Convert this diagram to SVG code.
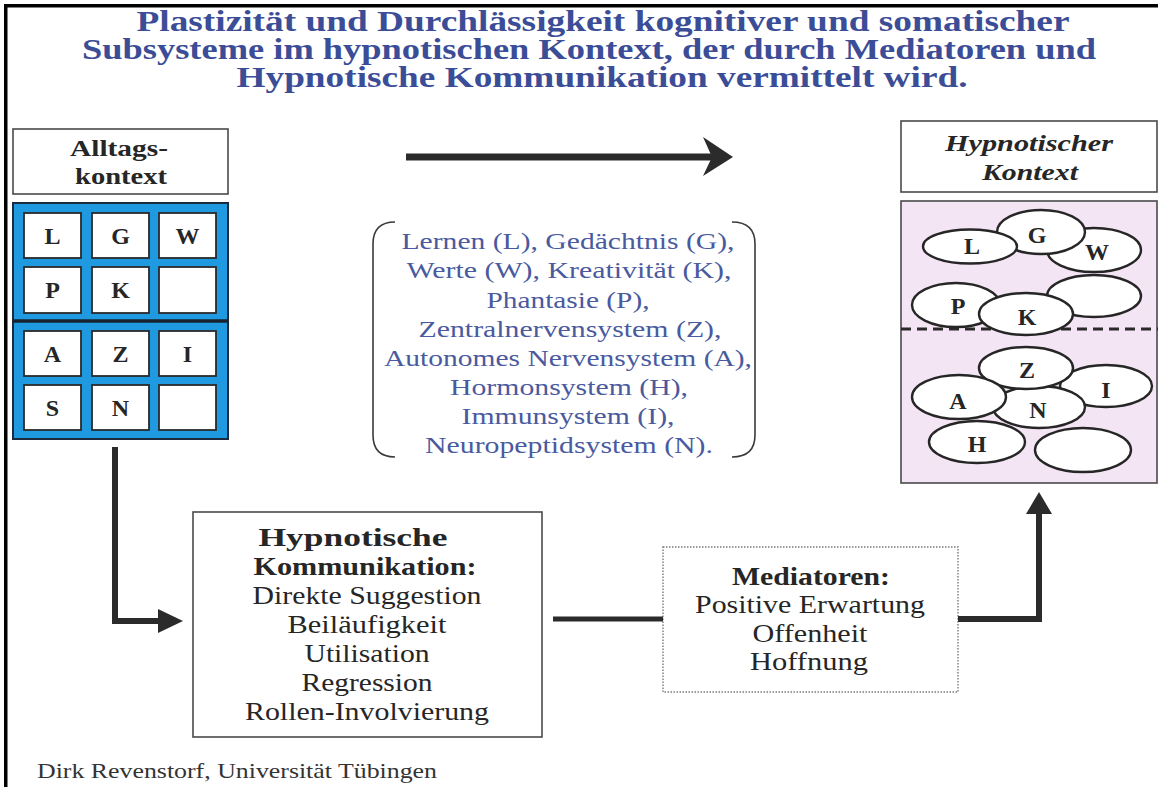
<svg xmlns="http://www.w3.org/2000/svg" width="1158" height="787" viewBox="0 0 1158 787">
  <style>
    .title { font-family: "Liberation Serif", "Times New Roman", serif; font-weight: bold; font-size: 28.5px; fill: #3b4d96; text-anchor: middle; }
    .list { font-family: "Liberation Serif", "Times New Roman", serif; font-size: 23.5px; fill: #4a5a9e; text-anchor: middle; }
    .body { font-family: "Liberation Serif", "Times New Roman", serif; font-size: 25px; fill: #262626; text-anchor: middle; }
    .bold { font-weight: bold; }
    .head { font-family: "Liberation Serif", "Times New Roman", serif; font-size: 24px; font-weight: bold; fill: #262626; text-anchor: middle; }
    .cellt { font-family: "Liberation Serif", "Times New Roman", serif; font-size: 24px; font-weight: bold; fill: #262626; text-anchor: middle; }
    .cell { fill: #ffffff; stroke: #2a2a2a; stroke-width: 1.8; }
    .oval { fill: #ffffff; stroke: #262626; stroke-width: 2.4; }
    .frame { fill: #ffffff; stroke: #4a4a4a; stroke-width: 1.6; }
    .conn { fill: none; stroke: #2b2b2b; stroke-linejoin: miter; }
    .head-fill { fill: #2b2b2b; }
  </style>

  <rect x="0" y="0" width="1158" height="787" fill="#ffffff"/>
  <!-- page edges -->
  <rect x="4" y="4" width="1154" height="3.5" fill="#000000"/>
  <rect x="4" y="4" width="3.5" height="783" fill="#000000"/>

  <!-- heading -->
  <g id="title">
    <text class="title" x="603" y="31" textLength="933" lengthAdjust="spacingAndGlyphs">Plastizität und Durchlässigkeit kognitiver und somatischer</text>
    <text class="title" x="589" y="59" textLength="1014" lengthAdjust="spacingAndGlyphs">Subsysteme im hypnotischen Kontext, der durch Mediatoren und</text>
    <text class="title" x="602" y="87" textLength="731" lengthAdjust="spacingAndGlyphs">Hypnotische Kommunikation vermittelt wird.</text>
  </g>

  <!-- everyday context label -->
  <g id="alltags-label">
    <rect class="frame" x="13" y="129" width="215" height="65"/>
    <text class="head" x="119" y="156" textLength="98" lengthAdjust="spacingAndGlyphs">Alltags-</text>
    <text class="head" x="121" y="184" textLength="92" lengthAdjust="spacingAndGlyphs">kontext</text>
  </g>

  <!-- everyday context grid of subsystems -->
  <g id="alltags-grid">
    <rect x="13" y="203" width="215" height="236" fill="#1f9ae0" stroke="#1b2a3c" stroke-width="2"/>
    <line x1="13" y1="321" x2="228" y2="321" stroke="#1a2330" stroke-width="3.5"/>
    <rect class="cell" x="24" y="213" width="57" height="45"/>
    <rect class="cell" x="92" y="213" width="57" height="45"/>
    <rect class="cell" x="159" y="213" width="57" height="45"/>
    <rect class="cell" x="24" y="267" width="57" height="46"/>
    <rect class="cell" x="92" y="267" width="57" height="46"/>
    <rect class="cell" x="159" y="267" width="57" height="46"/>
    <rect class="cell" x="24" y="331" width="57" height="45"/>
    <rect class="cell" x="92" y="331" width="57" height="45"/>
    <rect class="cell" x="159" y="331" width="57" height="45"/>
    <rect class="cell" x="24" y="385" width="57" height="45"/>
    <rect class="cell" x="92" y="385" width="57" height="45"/>
    <rect class="cell" x="159" y="385" width="57" height="45"/>
    <text class="cellt" x="52.5" y="244">L</text>
    <text class="cellt" x="120.5" y="244">G</text>
    <text class="cellt" x="187.5" y="244">W</text>
    <text class="cellt" x="52.5" y="298">P</text>
    <text class="cellt" x="120.5" y="298">K</text>
    <text class="cellt" x="52.5" y="362">A</text>
    <text class="cellt" x="120.5" y="362">Z</text>
    <text class="cellt" x="187.5" y="362">I</text>
    <text class="cellt" x="52.5" y="416">S</text>
    <text class="cellt" x="120.5" y="416">N</text>
  </g>

  <!-- bracketed legend -->
  <g id="legend">
    <path d="M395,222 Q373,222 373,244 L373,435 Q373,457 395,457" fill="none" stroke="#3a3a3a" stroke-width="1.6"/>
    <path d="M732,222 Q755,222 755,244 L755,435 Q755,457 732,457" fill="none" stroke="#3a3a3a" stroke-width="1.6"/>
    <text class="list" x="568" y="249" textLength="333" lengthAdjust="spacingAndGlyphs">Lernen (L), Gedächtnis (G),</text>
    <text class="list" x="569" y="278" textLength="325" lengthAdjust="spacingAndGlyphs">Werte (W), Kreativität (K),</text>
    <text class="list" x="568" y="308" textLength="163" lengthAdjust="spacingAndGlyphs">Phantasie (P),</text>
    <text class="list" x="570" y="337" textLength="303" lengthAdjust="spacingAndGlyphs">Zentralnervensystem (Z),</text>
    <text class="list" x="568" y="366" textLength="368" lengthAdjust="spacingAndGlyphs">Autonomes Nervensystem (A),</text>
    <text class="list" x="569" y="395" textLength="238" lengthAdjust="spacingAndGlyphs">Hormonsystem (H),</text>
    <text class="list" x="568" y="424" textLength="213" lengthAdjust="spacingAndGlyphs">Immunsystem (I),</text>
    <text class="list" x="569" y="453" textLength="288" lengthAdjust="spacingAndGlyphs">Neuropeptidsystem (N).</text>
  </g>

  <!-- hypnotic context label -->
  <g id="hypno-label">
    <rect class="frame" x="901" y="121" width="256" height="71"/>
    <text class="head" x="1029" y="151" font-style="italic" textLength="168" lengthAdjust="spacingAndGlyphs">Hypnotischer</text>
    <text class="head" x="1030" y="180" font-style="italic" textLength="96" lengthAdjust="spacingAndGlyphs">Kontext</text>
  </g>

  <!-- hypnotic context: overlapping subsystems -->
  <g id="hypno-field">
    <rect x="901" y="201" width="256" height="282" fill="#f4e5f4" stroke="#4a4a4a" stroke-width="1.6"/>
    <line x1="901" y1="329" x2="1158" y2="329" stroke="#2a2a2a" stroke-width="3" stroke-dasharray="10 6"/>
    <ellipse class="oval" cx="1094" cy="250" rx="47" ry="22"/>
    <ellipse class="oval" cx="1041" cy="232" rx="44" ry="22"/>
    <ellipse class="oval" cx="970" cy="246.5" rx="47" ry="17"/>
    <ellipse class="oval" cx="1094" cy="296" rx="47" ry="21"/>
    <ellipse class="oval" cx="956" cy="305" rx="44" ry="22"/>
    <ellipse class="oval" cx="1026" cy="314" rx="47" ry="21"/>
    <ellipse class="oval" cx="1106" cy="386" rx="46" ry="21"/>
    <ellipse class="oval" cx="1039" cy="407" rx="46" ry="21"/>
    <ellipse class="oval" cx="1026" cy="368" rx="47" ry="21"/>
    <ellipse class="oval" cx="959" cy="397" rx="47" ry="22"/>
    <ellipse class="oval" cx="977" cy="442" rx="48" ry="21"/>
    <ellipse class="oval" cx="1083" cy="450" rx="48" ry="22"/>
    <text class="cellt" x="972" y="254">L</text>
    <text class="cellt" x="1037" y="243">G</text>
    <text class="cellt" x="1097" y="260">W</text>
    <text class="cellt" x="958" y="314">P</text>
    <text class="cellt" x="1027" y="325">K</text>
    <text class="cellt" x="1027" y="378">Z</text>
    <text class="cellt" x="1106" y="398">I</text>
    <text class="cellt" x="1038" y="418">N</text>
    <text class="cellt" x="958" y="409">A</text>
    <text class="cellt" x="977" y="452">H</text>
  </g>

  <!-- hypnotic communication -->
  <g id="kommunikation">
    <rect class="frame" x="193" y="512" width="349" height="225"/>
    <text class="body bold" x="353" y="546" textLength="189" lengthAdjust="spacingAndGlyphs">Hypnotische</text>
    <text class="body bold" x="365" y="575" textLength="223" lengthAdjust="spacingAndGlyphs">Kommunikation:</text>
    <text class="body" x="367" y="604" textLength="229" lengthAdjust="spacingAndGlyphs">Direkte Suggestion</text>
    <text class="body" x="367" y="633" textLength="159" lengthAdjust="spacingAndGlyphs">Beiläufigkeit</text>
    <text class="body" x="367" y="662" textLength="125" lengthAdjust="spacingAndGlyphs">Utilisation</text>
    <text class="body" x="367" y="691" textLength="131" lengthAdjust="spacingAndGlyphs">Regression</text>
    <text class="body" x="367" y="720" textLength="244" lengthAdjust="spacingAndGlyphs">Rollen-Involvierung</text>
  </g>

  <!-- mediators -->
  <g id="mediatoren">
    <rect x="663" y="547" width="295" height="145" fill="#ffffff" stroke="#7a7a7a" stroke-width="1.4" stroke-dasharray="1.5 1.5"/>
    <text class="body bold" x="811" y="585" textLength="158" lengthAdjust="spacingAndGlyphs">Mediatoren:</text>
    <text class="body" x="810" y="613" textLength="230" lengthAdjust="spacingAndGlyphs">Positive Erwartung</text>
    <text class="body" x="810" y="642" textLength="115" lengthAdjust="spacingAndGlyphs">Offenheit</text>
    <text class="body" x="809" y="670" textLength="118" lengthAdjust="spacingAndGlyphs">Hoffnung</text>
  </g>

  <!-- connectors -->
  <g id="connectors">
    <line class="conn" x1="406" y1="157" x2="712" y2="157" stroke-width="7"/>
    <polygon class="head-fill" points="733,157 703,137 712,157 703,176"/>
    <path class="conn" d="M115,447 V621 H162" stroke-width="6"/>
    <polygon class="head-fill" points="183,621 158,609 158,633"/>
    <line class="conn" x1="553" y1="619" x2="663" y2="619" stroke-width="5"/>
    <path class="conn" d="M958,619 H1039 V512" stroke-width="6"/>
    <polygon class="head-fill" points="1039,492 1026,514 1052,514"/>
  </g>

  <!-- author credit -->
  <text x="237" y="778" font-family="Liberation Serif, Times New Roman, serif" font-size="21" fill="#333333" text-anchor="middle" textLength="400" lengthAdjust="spacingAndGlyphs">Dirk Revenstorf, Universität Tübingen</text>
</svg>
